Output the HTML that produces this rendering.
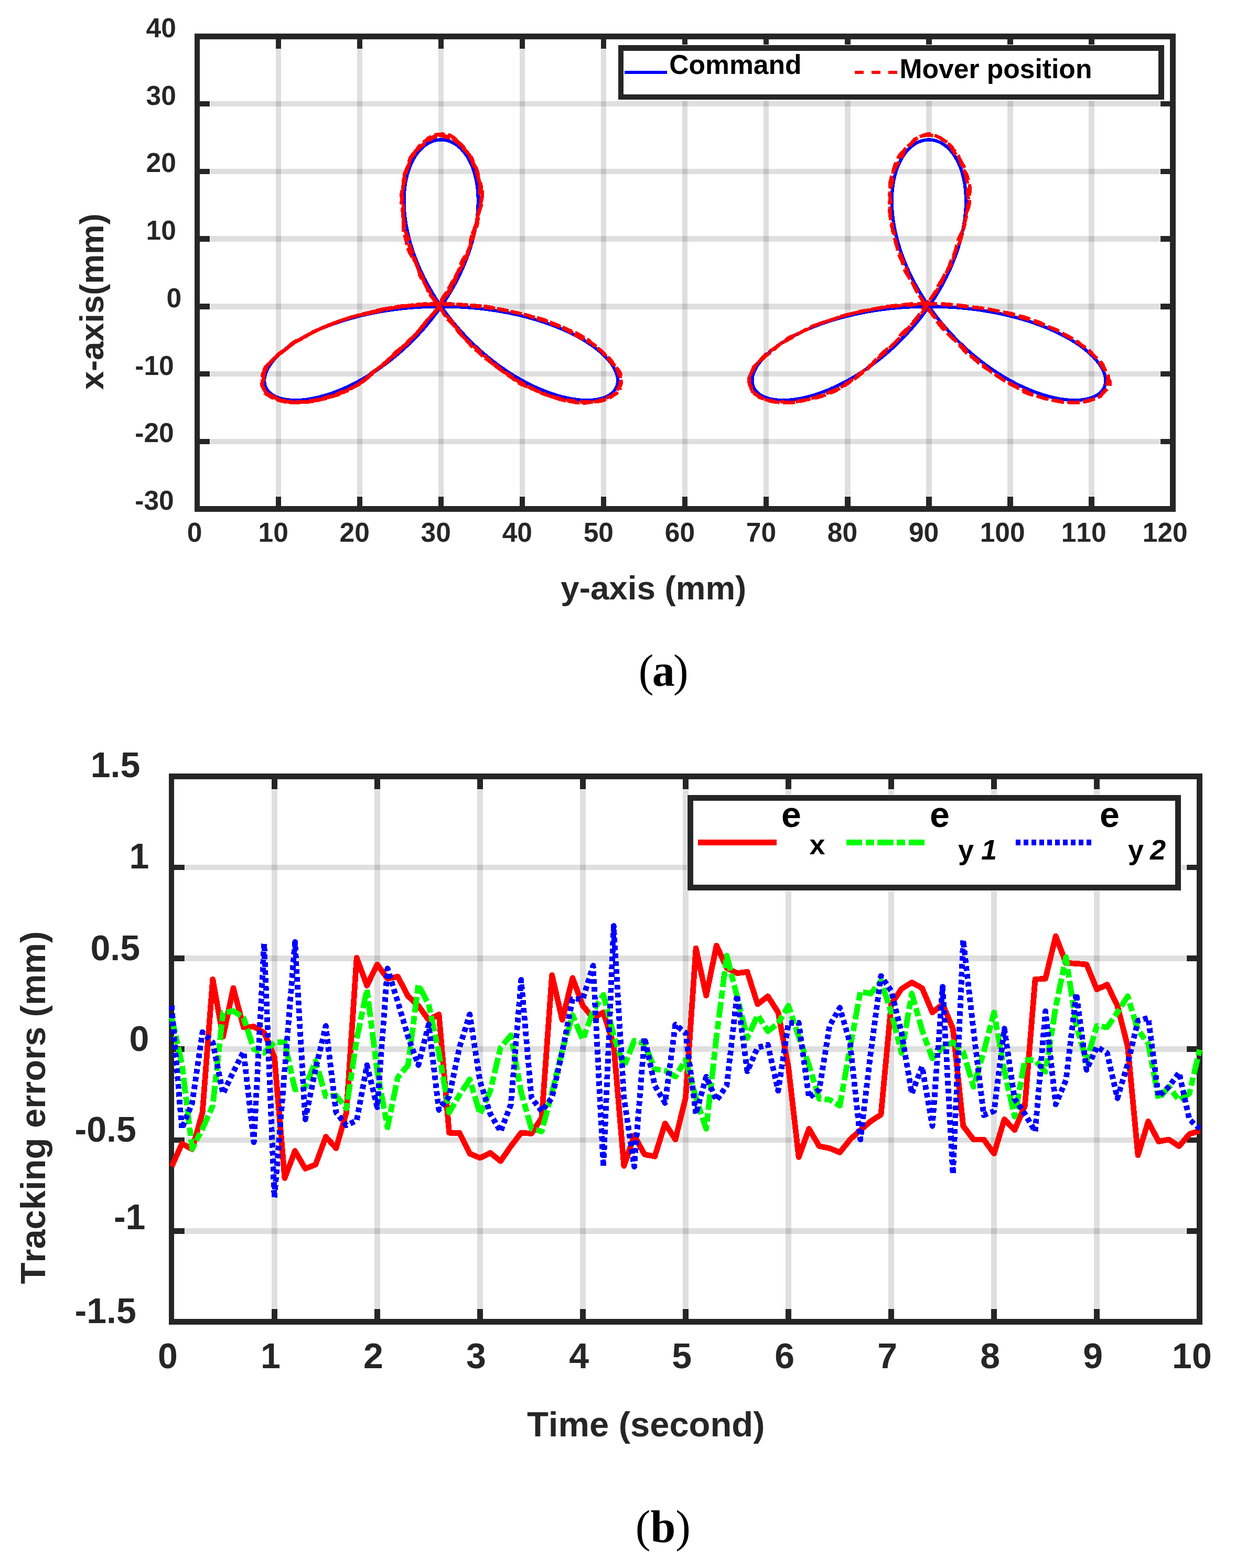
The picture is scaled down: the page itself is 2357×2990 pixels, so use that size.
<!DOCTYPE html>
<html lang="en"><head><meta charset="utf-8"><title>Figure: contour tracking and tracking errors</title>
<style>html,body{margin:0;padding:0;background:#fff}body{width:2357px;height:2990px;overflow:hidden}svg{display:block}.sf{font-family:"Liberation Sans",sans-serif;font-kerning:none}.rf{font-family:"Liberation Serif",serif}.b{font-weight:bold}</style>
</head><body>
<svg width="2357" height="2990" viewBox="0 0 2357 2990">
<rect width="2357" height="2990" fill="#fff"/>
<g id="chartA">
<g fill="#262626" fill-opacity="0.15" shape-rendering="crispEdges">
<rect x="526" y="94" width="10" height="852"/>
<rect x="681" y="94" width="10" height="852"/>
<rect x="836" y="94" width="10" height="852"/>
<rect x="991" y="94" width="10" height="852"/>
<rect x="1146" y="94" width="10" height="852"/>
<rect x="1301" y="94" width="10" height="852"/>
<rect x="1456" y="94" width="10" height="852"/>
<rect x="1611" y="94" width="11" height="852"/>
<rect x="1766" y="94" width="11" height="852"/>
<rect x="1921" y="94" width="11" height="852"/>
<rect x="2076" y="94" width="11" height="852"/>
<rect x="401" y="837" width="1811" height="10"/>
<rect x="401" y="708" width="1811" height="10"/>
<rect x="401" y="579" width="1811" height="11"/>
<rect x="401" y="450" width="1811" height="11"/>
<rect x="401" y="322" width="1811" height="10"/>
<rect x="401" y="193" width="1811" height="10"/>
</g>
<g fill="#262626" shape-rendering="crispEdges">
<rect x="526" y="947" width="10" height="18"/>
<rect x="526" y="75" width="10" height="18"/>
<rect x="681" y="947" width="10" height="18"/>
<rect x="681" y="75" width="10" height="18"/>
<rect x="836" y="947" width="10" height="18"/>
<rect x="836" y="75" width="10" height="18"/>
<rect x="991" y="947" width="10" height="18"/>
<rect x="991" y="75" width="10" height="18"/>
<rect x="1146" y="947" width="10" height="18"/>
<rect x="1146" y="75" width="10" height="18"/>
<rect x="1301" y="947" width="10" height="18"/>
<rect x="1301" y="75" width="10" height="18"/>
<rect x="1456" y="947" width="10" height="18"/>
<rect x="1456" y="75" width="10" height="18"/>
<rect x="1611" y="947" width="11" height="18"/>
<rect x="1611" y="75" width="11" height="18"/>
<rect x="1766" y="947" width="11" height="18"/>
<rect x="1766" y="75" width="11" height="18"/>
<rect x="1921" y="947" width="11" height="18"/>
<rect x="1921" y="75" width="11" height="18"/>
<rect x="2076" y="947" width="11" height="18"/>
<rect x="2076" y="75" width="11" height="18"/>
<rect x="381" y="837" width="19" height="10"/>
<rect x="2213" y="837" width="18" height="10"/>
<rect x="381" y="708" width="19" height="10"/>
<rect x="2213" y="708" width="18" height="10"/>
<rect x="381" y="579" width="19" height="11"/>
<rect x="2213" y="579" width="18" height="11"/>
<rect x="381" y="450" width="19" height="11"/>
<rect x="2213" y="450" width="18" height="11"/>
<rect x="381" y="322" width="19" height="10"/>
<rect x="2213" y="322" width="18" height="10"/>
<rect x="381" y="193" width="19" height="10"/>
<rect x="2213" y="193" width="18" height="10"/>
<rect x="371" y="64" width="10" height="912"/>
<rect x="2231" y="64" width="11" height="912"/>
<rect x="371" y="64" width="1871" height="11"/>
<rect x="371" y="965" width="1871" height="11"/>
</g>
<g fill="none" stroke-linejoin="round" shape-rendering="crispEdges">
<path d="M841.12,584.36 L826.09,584.52 L811.09,585.01 L796.15,585.82 L781.3,586.96 L766.57,588.41 L752,590.18 L737.61,592.25 L723.43,594.63 L709.5,597.29 L695.83,600.24 L682.46,603.46 L669.41,606.94 L656.71,610.66 L644.38,614.63 L632.46,618.82 L620.95,623.21 L609.89,627.8 L599.29,632.56 L589.17,637.48 L579.56,642.54 L570.47,647.73 L561.92,653.02 L553.91,658.4 L546.47,663.84 L539.61,669.33 L533.33,674.84 L527.65,680.37 L522.57,685.87 L518.11,691.34 L514.25,696.76 L511.02,702.1 L508.4,707.34 L506.41,712.46 L505.03,717.45 L504.26,722.27 L504.11,726.91 L504.57,731.36 L505.62,735.59 L507.26,739.58 L509.48,743.32 L512.27,746.78 L515.61,749.96 L519.5,752.83 L523.91,755.38 L528.83,757.59 L534.24,759.46 L540.13,760.96 L546.47,762.08 L553.25,762.82 L560.43,763.16 L568.01,763.1 L575.95,762.63 L584.24,761.73 L592.84,760.41 L601.73,758.65 L610.89,756.46 L620.29,753.83 L629.9,750.77 L639.69,747.26 L649.65,743.32 L659.74,738.94 L669.93,734.13 L680.19,728.89 L690.51,723.23 L700.84,717.15 L711.18,710.67 L721.47,703.79 L731.71,696.53 L741.87,688.88 L751.91,680.88 L761.82,672.53 L771.57,663.84 L781.13,654.83 L790.49,645.52 L799.62,635.93 L808.5,626.07 L817.11,615.96 L825.43,605.63 L833.44,595.08 L841.12,584.36 L848.47,573.47 L855.46,562.44 L862.08,551.29 L868.32,540.04 L874.17,528.73 L879.61,517.37 L884.64,505.99 L889.26,494.61 L893.45,483.25 L897.21,471.95 L900.54,460.73 L903.43,449.61 L905.89,438.61 L907.92,427.77 L909.51,417.1 L910.68,406.63 L911.43,396.39 L911.76,386.38 L911.69,376.65 L911.21,367.21 L910.35,358.08 L909.1,349.29 L907.5,340.84 L905.54,332.77 L903.24,325.09 L900.63,317.82 L897.71,310.98 L894.5,304.57 L891.03,298.62 L887.31,293.15 L883.35,288.15 L879.2,283.65 L874.85,279.65 L870.34,276.17 L865.69,273.21 L860.92,270.78 L856.06,268.88 L851.12,267.52 L846.13,266.71 L841.13,266.43 L836.12,266.71 L831.13,267.52 L826.19,268.88 L821.33,270.78 L816.56,273.21 L811.91,276.17 L807.4,279.65 L803.05,283.65 L798.9,288.15 L794.94,293.15 L791.22,298.62 L787.75,304.57 L784.54,310.98 L781.62,317.82 L779.01,325.09 L776.71,332.77 L774.75,340.84 L773.15,349.29 L771.9,358.08 L771.04,367.21 L770.56,376.65 L770.49,386.38 L770.82,396.39 L771.57,406.63 L772.74,417.1 L774.33,427.77 L776.36,438.61 L778.82,449.61 L781.71,460.73 L785.04,471.95 L788.8,483.25 L792.99,494.61 L797.61,505.99 L802.64,517.37 L808.08,528.73 L813.93,540.04 L820.17,551.29 L826.79,562.44 L833.78,573.47 L841.12,584.36 L848.81,595.08 L856.82,605.63 L865.14,615.96 L873.75,626.07 L882.63,635.93 L891.76,645.52 L901.12,654.83 L910.68,663.84 L920.43,672.53 L930.34,680.88 L940.38,688.88 L950.54,696.53 L960.78,703.79 L971.07,710.67 L981.41,717.15 L991.74,723.23 L1002.06,728.89 L1012.32,734.13 L1022.51,738.94 L1032.6,743.32 L1042.56,747.26 L1052.35,750.77 L1061.96,753.83 L1071.36,756.46 L1080.52,758.65 L1089.41,760.41 L1098.01,761.73 L1106.3,762.63 L1114.24,763.1 L1121.82,763.16 L1129,762.82 L1135.78,762.08 L1142.12,760.96 L1148.01,759.46 L1153.42,757.59 L1158.34,755.38 L1162.75,752.83 L1166.64,749.96 L1169.98,746.78 L1172.77,743.32 L1174.99,739.58 L1176.63,735.59 L1177.68,731.36 L1178.14,726.91 L1177.99,722.27 L1177.22,717.45 L1175.84,712.46 L1173.85,707.34 L1171.23,702.1 L1168,696.76 L1164.14,691.34 L1159.68,685.87 L1154.6,680.37 L1148.92,674.84 L1142.64,669.33 L1135.78,663.84 L1128.34,658.4 L1120.33,653.02 L1111.78,647.73 L1102.69,642.54 L1093.08,637.48 L1082.96,632.56 L1072.36,627.8 L1061.3,623.21 L1049.79,618.82 L1037.87,614.63 L1025.54,610.66 L1012.84,606.94 L999.79,603.46 L986.42,600.24 L972.75,597.29 L958.82,594.63 L944.64,592.25 L930.25,590.18 L915.68,588.41 L900.95,586.96 L886.1,585.82 L871.16,585.01 L856.16,584.52 L841.13,584.36" stroke="#0000ff" stroke-width="6.25"/>
<path d="M1771.38,584.36 L1756.34,584.52 L1741.34,585.01 L1726.4,585.82 L1711.55,586.96 L1696.82,588.41 L1682.25,590.18 L1667.86,592.25 L1653.68,594.63 L1639.75,597.29 L1626.08,600.24 L1612.71,603.46 L1599.66,606.94 L1586.96,610.66 L1574.63,614.63 L1562.71,618.82 L1551.2,623.21 L1540.14,627.8 L1529.54,632.56 L1519.42,637.48 L1509.81,642.54 L1500.72,647.73 L1492.17,653.02 L1484.16,658.4 L1476.72,663.84 L1469.86,669.33 L1463.58,674.84 L1457.9,680.37 L1452.82,685.87 L1448.36,691.34 L1444.5,696.76 L1441.27,702.1 L1438.65,707.34 L1436.66,712.46 L1435.28,717.45 L1434.51,722.27 L1434.36,726.91 L1434.82,731.36 L1435.87,735.59 L1437.51,739.58 L1439.73,743.32 L1442.52,746.78 L1445.86,749.96 L1449.75,752.83 L1454.16,755.38 L1459.08,757.59 L1464.49,759.46 L1470.38,760.96 L1476.72,762.08 L1483.5,762.82 L1490.68,763.16 L1498.26,763.1 L1506.2,762.63 L1514.49,761.73 L1523.09,760.41 L1531.98,758.65 L1541.14,756.46 L1550.54,753.83 L1560.15,750.77 L1569.94,747.26 L1579.9,743.32 L1589.99,738.94 L1600.18,734.13 L1610.44,728.89 L1620.76,723.23 L1631.09,717.15 L1641.43,710.67 L1651.72,703.79 L1661.96,696.53 L1672.12,688.88 L1682.16,680.88 L1692.07,672.53 L1701.82,663.84 L1711.38,654.83 L1720.74,645.52 L1729.87,635.93 L1738.75,626.07 L1747.36,615.96 L1755.68,605.63 L1763.69,595.08 L1771.38,584.36 L1778.72,573.47 L1785.71,562.44 L1792.33,551.29 L1798.57,540.04 L1804.42,528.73 L1809.86,517.37 L1814.89,505.99 L1819.51,494.61 L1823.7,483.25 L1827.46,471.95 L1830.79,460.73 L1833.68,449.61 L1836.14,438.61 L1838.17,427.77 L1839.76,417.1 L1840.93,406.63 L1841.68,396.39 L1842.01,386.38 L1841.94,376.65 L1841.46,367.21 L1840.6,358.08 L1839.35,349.29 L1837.75,340.84 L1835.79,332.77 L1833.49,325.09 L1830.88,317.82 L1827.96,310.98 L1824.75,304.57 L1821.28,298.62 L1817.56,293.15 L1813.6,288.15 L1809.45,283.65 L1805.1,279.65 L1800.59,276.17 L1795.94,273.21 L1791.17,270.78 L1786.31,268.88 L1781.37,267.52 L1776.38,266.71 L1771.38,266.43 L1766.37,266.71 L1761.38,267.52 L1756.44,268.88 L1751.58,270.78 L1746.81,273.21 L1742.16,276.17 L1737.65,279.65 L1733.3,283.65 L1729.15,288.15 L1725.19,293.15 L1721.47,298.62 L1718,304.57 L1714.79,310.98 L1711.87,317.82 L1709.26,325.09 L1706.96,332.77 L1705,340.84 L1703.4,349.29 L1702.15,358.08 L1701.29,367.21 L1700.81,376.65 L1700.74,386.38 L1701.07,396.39 L1701.82,406.63 L1702.99,417.1 L1704.58,427.77 L1706.61,438.61 L1709.07,449.61 L1711.96,460.73 L1715.29,471.95 L1719.05,483.25 L1723.24,494.61 L1727.86,505.99 L1732.89,517.37 L1738.33,528.73 L1744.18,540.04 L1750.42,551.29 L1757.04,562.44 L1764.03,573.47 L1771.38,584.36 L1779.06,595.08 L1787.07,605.63 L1795.39,615.96 L1804,626.07 L1812.88,635.93 L1822.01,645.52 L1831.37,654.83 L1840.93,663.84 L1850.68,672.53 L1860.59,680.88 L1870.63,688.88 L1880.79,696.53 L1891.03,703.79 L1901.32,710.67 L1911.66,717.15 L1921.99,723.23 L1932.31,728.89 L1942.57,734.13 L1952.76,738.94 L1962.85,743.32 L1972.81,747.26 L1982.6,750.77 L1992.21,753.83 L2001.61,756.46 L2010.77,758.65 L2019.66,760.41 L2028.26,761.73 L2036.55,762.63 L2044.49,763.1 L2052.07,763.16 L2059.25,762.82 L2066.03,762.08 L2072.37,760.96 L2078.26,759.46 L2083.67,757.59 L2088.59,755.38 L2093,752.83 L2096.89,749.96 L2100.23,746.78 L2103.02,743.32 L2105.24,739.58 L2106.88,735.59 L2107.93,731.36 L2108.39,726.91 L2108.24,722.27 L2107.47,717.45 L2106.09,712.46 L2104.1,707.34 L2101.48,702.1 L2098.25,696.76 L2094.39,691.34 L2089.93,685.87 L2084.85,680.37 L2079.17,674.84 L2072.89,669.33 L2066.03,663.84 L2058.59,658.4 L2050.58,653.02 L2042.03,647.73 L2032.94,642.54 L2023.33,637.48 L2013.21,632.56 L2002.61,627.8 L1991.55,623.21 L1980.04,618.82 L1968.12,614.63 L1955.79,610.66 L1943.09,606.94 L1930.04,603.46 L1916.67,600.24 L1903,597.29 L1889.07,594.63 L1874.89,592.25 L1860.5,590.18 L1845.93,588.41 L1831.2,586.96 L1816.35,585.82 L1801.41,585.01 L1786.41,584.52 L1771.38,584.36" stroke="#0000ff" stroke-width="6.25"/>
<path d="M840.29,579.06 L829.13,579.32 L818.8,579.33 L809.34,579.57 L798.64,580.43 L787.12,581.51 L777.38,582.67 L769.06,584.25 L759.85,585.94 L749.7,587.19 L739.72,588.23 L730.13,589.6 L721.41,591.32 L713.79,593.32 L706.01,595.44 L697.49,597.38 L688.92,599.4 L679.84,602.06 L669.86,605.02 L660.66,607.65 L652.88,610.27 L644.61,613.33 L635.72,616.4 L628.36,619.21 L622.2,622.17 L614.98,625.37 L606.72,628.55 L598.83,631.92 L591.63,635.67 L585.15,639.51 L579.1,643.19 L572.26,646.67 L564.96,649.82 L559.08,652.98 L554.51,656.77 L549.87,660.85 L545.73,664.44 L542.45,667.79 L538.15,671.51 L532.47,675.31 L527.7,678.81 L524.26,682.35 L520.52,686.07 L516.53,689.79 L513.38,693.58 L510.99,697.49 L508.99,701.25 L507.01,704.87 L504.14,708.5 L501.12,711.94 L500.17,715.22 L500.86,718.73 L500.86,722.13 L500.37,724.76 L500.66,727.08 L500.8,729.96 L500.25,733.23 L500.62,736.31 L502.02,739.24 L502.75,742.1 L502.82,744.69 L503.48,747.13 L504.99,749.46 L507.47,751.48 L510.84,753.39 L513.96,755.51 L516.9,757.55 L521.27,759.26 L526.34,761.01 L529.63,762.7 L531.87,763.78 L535.61,764.53 L540.73,765.66 L546.07,766.86 L552.12,767.43 L558.69,767.49 L564.42,767.41 L569.56,767.31 L575.15,767.29 L581.08,767.21 L587.21,766.66 L593.58,765.77 L599.13,764.93 L603.93,763.87 L609.98,762.33 L617.17,760.79 L623.17,759.44 L628.32,757.72 L634.98,755.62 L642.7,753.56 L649.62,751.23 L655.94,748.03 L662.36,744.18 L668.75,740.22 L675.69,736.26 L683.51,732.33 L690.99,728.19 L697.59,723.44 L703.74,718.38 L708.98,713.6 L713.47,708.8 L719.37,703.43 L726.96,697.82 L733.8,692.27 L739.73,686.35 L746.88,680.03 L754.94,673.84 L761.95,667.78 L768,661.51 L774.03,655.23 L780.16,649.17 L786.7,643.08 L793.48,636.77 L799.24,630.15 L804.22,623.02 L809.95,615.83 L816.11,609.24 L821.71,602.86 L827.65,595.9 L833.95,588.61 L838.41,581.5 L841.09,574.34 L844.68,566.99 L849.6,559.83 L854.13,552.83 L858.06,545.68 L862.05,538.51 L866.01,531.4 L870.08,524.15 L874.08,516.79 L876.92,509.33 L879.32,501.54 L883.34,493.65 L888.36,486.18 L892.36,478.77 L895.77,470.76 L899.39,462.63 L901.92,455.21 L903.26,448.29 L905.42,441.39 L908.4,434.51 L910.35,427.59 L911.17,420.46 L911.96,413.35 L913.17,406.39 L915.2,399.43 L917.68,392.63 L918.97,386.16 L919.04,379.68 L919.64,373.13 L920.18,367.01 L918.65,361.1 L916.06,354.77 L914.5,348.39 L913.42,342.7 L912.02,337.39 L911.1,331.87 L910.31,326.23 L908.15,320.72 L904.98,315.45 L902.03,310.63 L899.48,306.12 L897.5,301.48 L895.74,296.82 L892.73,292.49 L888.7,288.27 L885.95,284.09 L884.33,280.49 L881.47,277.46 L877.7,274.32 L874.99,271.16 L872.75,268.51 L869.67,266.12 L866.36,263.52 L863.18,260.96 L859.66,258.88 L856.33,257.43 L853.58,256.68 L850.48,256.33 L846.71,255.89 L842.55,255.62 L837.29,256.07 L831.51,256.93 L827.75,257.78 L825.96,258.93 L823.33,260.48 L819.6,261.94 L816.77,263.42 L814.58,265.54 L811.58,268.18 L808.07,270.91 L804.59,273.82 L801.01,277.08 L797.88,280.6 L795.29,284.39 L792.19,288.3 L788.83,292.02 L786.37,296 L784.17,300.86 L781.66,306.14 L780.19,311.09 L779.53,315.95 L777.24,321.09 L773.57,326.22 L771.34,331.39 L770.89,337.02 L770.54,342.98 L769.89,348.88 L769.1,354.8 L768.06,360.89 L767.4,367.06 L767.19,373.43 L766.37,379.92 L765.47,386.18 L766.11,392.44 L767.45,399.32 L767.97,406.43 L768.55,413.11 L769.68,419.81 L769.76,427.19 L769.04,434.96 L769.84,442.72 L772.18,450.51 L774.23,458.12 L775.75,465.37 L777.54,472.55 L780.11,479.88 L784.15,487.26 L789.19,494.81 L793.25,502.5 L796.24,509.9 L799.99,517.14 L804.06,524.85 L806.94,532.77 L809.83,540.2 L814.2,547.51 L818.91,555.32 L823.37,563.31 L828.72,570.96 L834.52,578.34 L839.25,585.51 L843.17,592.55 L847.42,599.77 L852.42,607.04 L858.56,613.95 L865.24,620.6 L870.55,627.23 L874.79,633.62 L880.44,639.85 L887.35,646.51 L893.39,653.36 L898.98,659.66 L905.6,665.56 L912.43,671.62 L918.7,677.65 L925.44,683.24 L932.8,688.6 L939.9,693.98 L947.08,699.47 L954.66,705.2 L962.02,710.84 L969.21,715.85 L976.27,720.46 L982.18,725.14 L987.71,729.59 L995.53,733.58 L1005.25,737.47 L1013.83,741.21 L1020.93,744.23 L1028.25,746.78 L1035.52,749.55 L1041.92,752.42 L1048.11,754.95 L1054.28,757.16 L1059.98,759.13 L1065.78,760.9 L1071.91,762.64 L1077.63,764.17 L1083.33,765.13 L1089.69,765.9 L1095.65,767.05 L1100.96,768.11 L1107.4,768.45 L1114.57,768.39 L1119.86,768.18 L1123.61,767.53 L1128.44,766.65 L1134.57,766.06 L1140.53,765.57 L1145.87,764.7 L1150.35,763.51 L1153.78,762.14 L1157.17,760.64 L1160.91,759.22 L1164.07,757.67 L1167.1,755.53 L1171.04,753.12 L1174.67,751.1 L1176.92,749.12 L1179.16,746.61 L1181.63,744.01 L1182.4,741.75 L1181.82,739.46 L1182.28,736.93 L1183.79,734.28 L1184.68,731.29 L1184.59,727.78 L1183.91,724.09 L1183.09,720.5 L1183.12,716.99 L1183.59,713.71 L1182.45,710.44 L1179.68,706.66 L1176.99,702.62 L1173.95,699.04 L1169.7,695.63 L1165.82,691.75 L1163.21,687.73 L1160.18,684.11 L1156.27,680.58 L1152.93,676.81 L1149.9,672.92 L1145.77,668.9 L1140.73,664.76 L1135.56,660.81 L1130.72,657.01 L1126.86,653.07 L1123.2,649.15 L1117.55,645.37 L1110.23,641.47 L1103.73,637.69 L1097.88,634.67 L1090.9,632.01 L1083.45,628.86 L1076.56,625.36 L1069.08,622.12 L1060.7,619.05 L1052.86,615.88 L1045.61,612.82 L1037.84,609.96 L1029.6,607.33 L1021.09,605.12 L1012.05,603.05 L1003.09,600.68 L994.15,598.24 L983.91,596.12 L973.17,594.01 L964.63,591.86 L957.71,590.16 L949.51,588.7 L939.83,586.85 L930.12,584.92 L920.08,583.63 L909.43,582.85 L899.2,582.12 L889.33,581.39 L879.03,580.63 L868.74,579.95 L858.7,579.66 L848.52,579.6 L838.86,579.35" stroke="#ff0000" stroke-width="6.5" stroke-dasharray="20 6" stroke-dashoffset="0"/>
<path d="M842.31,580.47 L831.52,580.23 L820.82,580.31 L809.33,580.73 L797.75,581.39 L787.72,582.16 L778.52,582.71 L768.84,583.22 L759.67,584.36 L751.28,586.01 L741.77,587.52 L731.27,589.16 L722.02,591.47 L713.96,594.06 L705.19,596.41 L695.42,598.69 L685.41,600.97 L675.79,603.09 L667.5,605.31 L660.31,607.97 L652.38,610.88 L643.71,613.88 L636.03,616.93 L628.78,619.74 L620.54,622.48 L612.51,625.78 L605.96,629.47 L599.57,632.75 L592.83,635.76 L587,639.18 L581.7,642.83 L575.36,646.25 L568.25,649.62 L561.52,653.16 L555.71,656.72 L551.34,660.37 L547.78,664.12 L542.96,667.67 L537.09,671.06 L532.52,674.63 L529.06,678.27 L524.64,681.94 L519.82,686.05 L516.05,690.33 L512.53,693.93 L508.71,696.99 L505.87,700.35 L504.21,704.04 L502.83,707.57 L501.98,711.02 L501.92,714.6 L502.01,718.21 L502.19,721.88 L502.23,725.49 L500.9,728.69 L498.99,731.59 L499.29,734.61 L501.57,737.5 L503.01,739.94 L503.48,742.3 L504.74,744.69 L506.52,746.64 L508.14,748.35 L510.33,750.57 L513.18,753.12 L516.02,755.25 L519.27,756.9 L523.07,758.35 L526.65,759.72 L530.37,761.19 L534.78,762.7 L538.74,763.86 L542.21,764.74 L547.17,765.78 L553.27,766.66 L557.9,766.86 L561.4,766.78 L566.36,766.8 L572.96,766.59 L579.8,766.11 L586.47,765.84 L592.56,765.6 L597.76,764.78 L603.06,763.45 L608.96,762 L614.72,760.5 L620.92,758.96 L628.54,757.17 L636.35,754.69 L643.38,751.75 L651.05,749.07 L659.35,746.46 L666.08,743.3 L671.47,739.81 L677.83,736.38 L685.16,732.59 L691.83,728.13 L697.57,723.37 L702.76,718.37 L707.98,712.93 L714.46,707.33 L721.99,701.89 L728.69,696.52 L734.55,691.12 L741.02,685.55 L747.52,679.47 L753.16,673.15 L759.47,667.35 L767.12,661.88 L774.21,655.93 L780.27,649.64 L786.82,643.55 L793.61,637.42 L799.31,630.92 L804.15,624.31 L808.94,617.67 L814.28,610.77 L820.97,603.73 L828.24,596.67 L833.8,589.42 L837.85,582.06 L842.66,574.85 L848.02,567.57 L852.27,560.27 L856.17,553.42 L860.65,546.68 L864.46,539.17 L867.41,531.08 L871.11,523.29 L875.63,515.81 L879.82,508.26 L883.66,500.74 L887.28,493.33 L890.36,485.88 L893.44,478.51 L896.28,471.23 L897.42,463.76 L897.72,456.22 L899.97,448.91 L903.76,441.58 L906.41,434.07 L907.9,426.88 L909.6,420.02 L911.06,412.88 L912.09,405.68 L913.72,399.15 L915.74,393.12 L917.12,386.9 L918.02,380.41 L918.51,373.87 L918.22,367.44 L917.88,361.39 L917.76,355.66 L916.3,349.77 L913.69,343.79 L912.28,338.08 L911.75,332.37 L909.62,326.4 L906.29,320.68 L903.97,315.48 L902.62,310.33 L901.2,305.27 L899.5,300.86 L896.88,296.91 L892.96,292.82 L888.88,288.63 L885.33,284.66 L881.85,281.04 L879.05,277.9 L877.31,275.04 L874.9,271.94 L871.26,268.85 L868.37,266.48 L866.24,264.69 L862.6,262.98 L857.72,261.58 L853.82,260.68 L850.91,259.76 L847.75,258.72 L844.15,258.05 L840.11,257.83 L835.98,257.74 L833.05,257.96 L831.15,258.72 L828.52,259.93 L825.2,261.57 L822.31,263.41 L819.01,265.01 L814.91,266.68 L811.93,269.19 L810.3,272.33 L807.63,275.29 L803.53,278.22 L799.78,281.55 L796.48,285.06 L792.74,288.6 L788.8,292.52 L785.08,296.78 L782.05,301.07 L780.73,305.49 L780.35,310.2 L778.61,315.11 L775.77,320.39 L773.89,326.05 L772.61,331.68 L770.79,337.36 L769.5,343.62 L769.21,350.09 L768.25,355.93 L766.62,361.36 L766.2,367.2 L767.07,373.48 L768.03,379.94 L768.72,386.65 L768.9,393.47 L768.61,400.19 L768.95,406.98 L769.8,413.92 L769.49,420.81 L768.82,427.81 L770.29,435.04 L773.28,442.14 L775.46,449.08 L777.07,456.47 L779.11,464.22 L780.91,471.61 L782.62,478.83 L785.62,486.57 L789.57,494.63 L793.24,502.46 L796.52,510 L799.47,517.39 L802.15,524.79 L805.77,532.53 L810.31,540.55 L813.83,548.35 L816.61,555.92 L821.13,563.51 L827.05,570.8 L832.09,577.71 L836.66,584.85 L842.36,592.35 L848.77,599.56 L855.14,606.53 L861.56,613.8 L867.33,621.18 L871.96,628.1 L876.57,634.57 L881.81,640.8 L887.51,646.92 L894.42,653.19 L902.36,659.44 L909.11,665.18 L914.45,670.61 L920.82,676.38 L928.3,682.31 L934.65,687.98 L940.13,693.69 L946.57,699.45 L953.83,704.63 L961.07,709.26 L968.27,713.97 L975.07,718.79 L981.59,723.37 L989.08,727.74 L997.36,731.99 L1004.96,736.08 L1012.17,740.11 L1019.65,743.84 L1026.25,746.79 L1031.94,749.27 L1039.03,752.07 L1047.48,754.97 L1054.58,757.27 L1059.98,759.16 L1065.47,760.94 L1071.38,762.31 L1077.26,763.28 L1083.31,764.33 L1089.36,765.36 L1095.58,766.01 L1102.94,766.33 L1110.69,766.49 L1116.72,766.54 L1121.43,766.71 L1126.5,766.91 L1131.32,766.58 L1135.22,765.85 L1139.69,765.31 L1144.85,764.68 L1148.67,763.21 L1151.27,761.24 L1154.63,759.47 L1158.96,757.86 L1163.24,756.24 L1166.93,754.73 L1169.43,753.11 L1170.97,751.09 L1173.1,748.89 L1175.75,746.64 L1177.16,744.28 L1177.93,741.98 L1180.08,739.68 L1182.68,736.89 L1183.87,733.69 L1184.33,730.81 L1184.75,728.11 L1184.15,724.87 L1182.88,721.26 L1182.49,717.9 L1182.64,714.64 L1182.06,711.09 L1180.4,707.3 L1177.44,703.31 L1173.62,699.2 L1170.63,695.36 L1168.37,691.75 L1164.66,687.96 L1159.76,684.02 L1156.09,680.1 L1153.28,675.87 L1149.42,671.45 L1145.08,667.61 L1141.29,664.32 L1137.22,660.8 L1132.42,657.05 L1127.4,653.63 L1121.61,650.39 L1114.63,646.92 L1107.41,643.27 L1100.4,639.52 L1093.66,635.82 L1088.16,632.48 L1083.33,629.35 L1076.6,625.95 L1068.01,622.49 L1060.32,619.5 L1053.67,616.72 L1046,613.89 L1037.54,611.41 L1029.57,609.17 L1021.68,606.47 L1013.43,603.44 L1005.08,600.81 L996.18,598.63 L986.63,596.57 L977.52,594.57 L968.67,592.6 L959.09,590.67 L949.47,589.05 L940.18,587.59 L929.68,585.82 L918.25,584.06 L908.44,583.02 L900.03,582.39 L890.29,581.63 L878.93,580.98 L867.64,580.58 L856.88,580.06 L846.69,579.51 L837.3,579.49" stroke="#ff0000" stroke-width="6.5" stroke-dasharray="20 6" stroke-dashoffset="9"/>
<path d="M840.5,580.48 L830.31,580.57 L820.51,580.71 L809.87,581.03 L799.44,581.54 L789.66,582.36 L779.77,583.41 L770.07,584.24 L760.97,585.09 L751.76,586.67 L742.48,588.81 L733.61,590.88 L724.35,592.95 L714.59,595.2 L705.43,597.2 L696.1,598.92 L684.96,601.01 L673.81,603.51 L665.38,605.98 L658.57,608.37 L651.16,610.87 L643.33,613.53 L635.69,616.59 L627.94,619.94 L620.48,623.03 L613.52,625.92 L606.36,629.24 L599.37,632.8 L593.33,635.91 L587.3,638.78 L580.65,642.02 L574.73,645.5 L569.43,649.06 L563.09,652.92 L556.61,656.89 L552,660.52 L548.04,663.93 L542.63,667.37 L536.6,670.91 L531.49,674.76 L527.46,678.85 L524.38,682.58 L521.52,685.96 L517.65,689.68 L513.38,693.69 L510.29,697.26 L507.77,700.53 L505.07,704.13 L503.62,707.94 L503.71,711.61 L503.36,715.21 L502.43,718.7 L502.42,721.94 L502.52,725.16 L501.23,728.45 L499.64,731.52 L499.3,734.33 L500.14,736.97 L501.72,739.11 L503.35,740.88 L504.2,743.12 L505.39,745.89 L508.7,748.36 L512.86,750.43 L515.84,752.62 L518.59,754.85 L522.08,756.71 L525.07,758.27 L527.53,759.65 L531.21,760.87 L535.85,762.22 L540.01,763.62 L544.1,764.61 L548.78,765.25 L553.5,765.88 L558.09,766.28 L562.57,766.31 L566.62,766.49 L571.42,766.77 L578.51,766.38 L586.17,765.3 L591.89,764.31 L596.81,763.52 L602.9,762.53 L609.35,761.23 L615.45,759.61 L622.25,757.63 L629.58,755.58 L636.41,753.44 L643.22,750.78 L650.61,747.83 L657.99,745.11 L665.3,742.34 L672.54,739.01 L678.75,735.37 L684.36,731.52 L690.9,726.97 L697.43,721.83 L702.18,716.84 L706.93,712.09 L714.11,707.13 L722.5,701.89 L730.11,696.42 L737.08,690.85 L743.61,685.53 L749.47,680.36 L755.48,674.71 L762.06,668.63 L768.42,662.74 L774.69,656.88 L781.25,650.52 L787.09,643.97 L792.23,637.6 L798.31,631.13 L804.8,624.45 L809.79,617.89 L814.38,611.3 L820.66,604.26 L827.43,596.86 L832.79,589.37 L837.39,581.95 L842.28,574.93 L847.55,568.16 L853.33,560.92 L858.91,553.21 L862.92,545.81 L865.95,538.66 L869.46,531.15 L872.96,523.43 L876.13,516 L880.36,508.64 L885.27,501.14 L888.62,493.76 L890.74,486.41 L893.55,478.91 L896.33,471.43 L897.65,464.07 L898.46,456.63 L900.01,449.26 L902.33,441.97 L905.26,434.32 L907.94,426.54 L909.24,419.52 L910.25,413.24 L912.65,406.81 L915.21,400.08 L916.31,393.52 L916.92,387.05 L917.51,380.46 L916.74,373.95 L915.19,367.54 L914.85,361.16 L915.14,355.05 L914.36,349.18 L912.81,343.22 L911.23,337.32 L909.54,331.74 L907.94,326.14 L906.19,320.54 L903.56,315.57 L901.21,311.16 L900.66,306.48 L900.13,301.54 L897.34,297.08 L893.49,293.18 L890.21,289.56 L886.74,286.1 L882.98,282.64 L880.13,279.15 L877.62,276.01 L874.19,273.27 L870.43,270.6 L867.15,268.19 L864.09,266.46 L861.31,264.99 L858.37,263.42 L854.12,262.17 L849.4,261.27 L846.14,260.17 L843.29,259.01 L839.04,258.55 L834.96,258.85 L832.95,259.51 L831.67,260.34 L829.58,261.26 L826.98,262.4 L823.72,264.16 L819.56,266.45 L815.62,268.63 L812.47,270.72 L809.43,273.26 L806.49,276.05 L803.54,278.73 L799.53,281.76 L795.12,285.41 L792.34,289.2 L790.36,293.05 L787.06,297.35 L783.57,301.98 L781.9,306.58 L780.91,311.19 L779.08,315.93 L776.98,320.99 L775.15,326.71 L773.57,332.83 L772.68,338.53 L771.99,343.84 L770.26,349.51 L768.16,355.51 L766.85,361.35 L765.83,367.26 L765.26,373.59 L766.57,380 L768.68,386.37 L769.02,393.01 L768.3,399.87 L768.73,406.67 L769.74,413.53 L770.09,420.45 L770.47,427.36 L771.61,434.53 L773.51,441.9 L776.34,448.93 L779.26,455.84 L781.01,463.49 L782.64,471.78 L785.63,479.83 L788.84,487.51 L791.22,495.17 L793.94,502.69 L797,510.06 L798.94,517.58 L800.79,525.22 L804.68,532.8 L809.79,540.46 L814.27,548.13 L818.22,555.59 L822.28,563.07 L826.72,570.7 L832.14,577.97 L838.02,584.93 L843.2,592.29 L848.63,599.96 L855.7,607.09 L862.68,613.68 L867.76,620.34 L872.32,627.13 L877.54,633.85 L882.53,640.45 L887.7,646.67 L894.42,652.47 L901.79,658.28 L908.29,664.22 L914.41,670.05 L920.93,675.97 L927.93,682.17 L935.64,688.06 L943.2,693.41 L949.17,698.78 L954.63,704.18 L961.69,709.01 L969.3,713.37 L975.73,717.95 L982.36,722.77 L990.49,727.48 L998.69,731.88 L1006.02,735.76 L1013.09,739.21 L1019.59,742.72 L1025.15,746.22 L1030.94,749.13 L1037.59,751.52 L1044.64,753.84 L1052.02,755.83 L1059.12,757.32 L1064.66,758.9 L1069.77,760.72 L1076.74,762.15 L1084.49,763.12 L1090.73,764.07 L1096.46,764.97 L1103.31,765.58 L1110.22,765.89 L1116.12,765.93 L1121.59,765.85 L1126.68,766.06 L1131.2,766.3 L1135.81,765.78 L1140.25,764.56 L1143.64,763.38 L1146.7,762.22 L1150.14,760.77 L1153.24,759.35 L1156.56,758.14 L1161.62,756.64 L1166.9,754.78 L1169.65,752.98 L1170.8,751.22 L1172.67,749.26 L1174.9,747.1 L1176.51,744.65 L1177.92,741.92 L1179.3,739.31 L1180.55,736.76 L1182.12,733.66 L1183.38,730.22 L1183.18,727.27 L1182.51,724.65 L1182.49,721.6 L1181.94,718.13 L1180.43,714.5 L1179.35,710.59 L1178.2,706.52 L1175.24,702.7 L1171.66,699.04 L1169.64,695.33 L1168.33,691.61 L1165.91,687.78 L1162.34,683.77 L1158.03,680.01 L1153.59,676.54 L1149.99,672.76 L1146.64,668.74 L1142.1,665.22 L1137.15,662.08 L1132.92,658.53 L1127.88,654.63 L1120.94,650.87 L1113.79,647.26 L1107.1,643.73 L1099.78,640.34 L1092.52,636.81 L1086.81,633.06 L1081.57,629.48 L1075.18,626.17 L1067.94,623 L1060.5,620.21 L1053.28,617.83 L1046.77,615.13 L1039.89,611.99 L1030.95,609.14 L1021.18,606.65 L1012.73,603.92 L1004.63,601.07 L995.44,598.66 L986.43,596.69 L978.26,594.93 L969.4,593.25 L959.58,591.39 L949.85,589.42 L939.85,587.88 L929.06,586.72 L918.48,585.46 L908.6,584.25 L899.16,583.37 L890.22,582.43 L880.81,581.38 L869.5,580.93 L857.8,581.1 L848.2,581.17 L839.58,581.02" stroke="#ff0000" stroke-width="6.5" stroke-dasharray="20 6" stroke-dashoffset="18"/>
<path d="M1771.13,579.06 L1760.5,578.95 L1750.16,578.93 L1740.29,579.24 L1729.86,580.21 L1719.24,581.43 L1709.16,582.48 L1699.25,583.57 L1689.58,584.89 L1680.27,586.48 L1670.45,588.4 L1660.6,590.31 L1652.48,591.78 L1645.04,593.33 L1635.56,595.53 L1624.78,597.9 L1615.29,600.03 L1606.94,602.42 L1598.58,605.29 L1590.56,608.14 L1582.76,610.84 L1574.33,613.63 L1565.76,616.35 L1557.68,618.98 L1549.75,621.88 L1542.4,625.14 L1536.19,628.58 L1530.05,632.2 L1523.64,635.7 L1518.38,638.74 L1513.61,641.83 L1506.93,645.62 L1499.12,649.62 L1492.82,653.2 L1487.72,656.77 L1482.03,660.72 L1475.87,664.64 L1469.88,668.34 L1464.29,672.02 L1459.95,675.62 L1456.87,679.13 L1453.67,682.77 L1450.23,686.41 L1447.27,689.84 L1443.92,693.34 L1439.83,697.01 L1436.91,700.56 L1435.52,704.26 L1433.7,708.48 L1431.64,712.56 L1431.28,715.77 L1431.88,718.58 L1431.44,721.67 L1430.13,724.83 L1429.08,727.83 L1428.83,730.8 L1429.91,733.68 L1431.69,736.49 L1432.47,739.38 L1432.59,742.08 L1433.82,744.34 L1435.67,746.56 L1437.08,748.99 L1439.26,751.2 L1442.64,753.18 L1445.43,755.37 L1447.58,757.44 L1451.12,758.88 L1455.9,760.22 L1460.37,761.98 L1464.6,763.77 L1469.19,765.09 L1473.97,765.98 L1478.95,766.53 L1483.57,767 L1486.69,767.67 L1489.56,768.23 L1494.75,768.26 L1501.67,768.08 L1508.11,767.94 L1514.45,767.31 L1521.51,766.07 L1528.03,764.79 L1533.81,763.54 L1540.44,761.94 L1547.82,760.31 L1554.59,759.01 L1560.92,757.56 L1567.43,755.54 L1574.05,753.08 L1581.12,750.35 L1588.41,747.47 L1594.6,744.55 L1600.32,741.17 L1607.56,736.9 L1615.33,732.31 L1621.16,727.97 L1625.92,723.48 L1631.79,718.53 L1638.41,713.57 L1644.98,708.64 L1652.01,703.27 L1658.99,697.55 L1664.86,691.84 L1670.25,685.95 L1676.04,679.81 L1682.18,673.71 L1689.15,667.73 L1696.92,661.8 L1703.91,655.97 L1710.1,649.87 L1717.27,643.08 L1724.67,636.19 L1729.94,629.87 L1733.94,623.6 L1739.12,616.81 L1745.1,609.87 L1750.55,603.05 L1755.67,596 L1760.65,588.76 L1765.43,581.54 L1770.9,574.25 L1777.12,566.84 L1782.8,559.52 L1787.8,552.24 L1792.46,544.9 L1795.79,537.77 L1798.03,530.73 L1801.47,523.39 L1806.05,516.12 L1809.36,509.31 L1811.67,502.29 L1815.01,494.45 L1818.83,486.32 L1821.57,478.54 L1823.54,470.96 L1825.45,463.5 L1827.72,456.2 L1831.07,448.86 L1834.9,441.49 L1837.45,434.33 L1839.01,427.2 L1840.98,419.97 L1842.76,412.99 L1843.78,406.29 L1845.52,399.43 L1847.88,392.6 L1848.68,386.28 L1848.11,380.05 L1848.42,373.37 L1849.47,366.77 L1849.77,360.76 L1849.23,355 L1848.09,349.11 L1846.39,343.09 L1844.72,336.99 L1842.7,331.13 L1839.17,325.87 L1835.3,320.89 L1833.37,315.77 L1832.53,310.78 L1830.93,306.05 L1829.12,301.14 L1827.46,296.18 L1824.49,291.81 L1820.48,287.87 L1817.44,283.91 L1815.2,280.27 L1812.26,277.31 L1808.57,274.61 L1804.61,271.78 L1800.68,268.9 L1797.57,266.11 L1794.9,263.7 L1791.06,261.91 L1786.71,260.3 L1783.91,258.42 L1781.75,256.82 L1778.12,256.01 L1774,255.58 L1770.99,255.36 L1768.27,255.75 L1765.34,256.57 L1762.94,257.31 L1760.37,258.19 L1756.48,259.63 L1751.91,261.42 L1747.62,263.39 L1743.93,265.67 L1741.46,268.23 L1739.7,271.1 L1736.64,274.4 L1732.51,277.67 L1729.49,280.54 L1727.03,283.7 L1722.98,287.8 L1718.28,292.29 L1714.97,296.68 L1712.54,301.25 L1710.11,306.08 L1708.11,310.84 L1706.36,315.71 L1704.5,320.95 L1703.34,326.32 L1703,331.68 L1702.47,337.19 L1701.84,342.79 L1701.11,348.57 L1699.1,354.79 L1696.5,361.17 L1695.95,367.24 L1697.06,373.44 L1697.15,380.27 L1696.35,387.06 L1696.47,393.23 L1697.14,399.33 L1697.41,405.87 L1697.7,412.73 L1698.31,419.88 L1699.34,427.34 L1701.52,434.74 L1704.33,442.05 L1706.2,449.49 L1707.53,456.96 L1709.34,464.44 L1710.87,472.22 L1712.09,480.12 L1714.88,487.62 L1718.84,495.03 L1721.51,502.88 L1723.26,510.69 L1726.45,517.95 L1731.1,525.18 L1735.82,532.83 L1740.31,540.61 L1744.36,548.27 L1748.08,555.77 L1752.45,563.02 L1757.28,570.29 L1761.36,577.92 L1765.67,585.56 L1771.86,592.84 L1778.76,600.01 L1784.92,607.06 L1791.26,613.58 L1797.77,619.9 L1802.77,626.68 L1806.88,633.62 L1812.34,640.15 L1819,646.55 L1825.36,653.17 L1831.12,659.7 L1836.46,665.89 L1841.89,671.76 L1848.61,677.33 L1856.17,682.93 L1862.73,688.85 L1868.85,694.61 L1876.42,699.78 L1884.49,704.82 L1891.43,710.08 L1898.39,715.16 L1906.3,720.01 L1913.91,725 L1921.02,729.79 L1928.67,733.81 L1936.23,737.4 L1942.57,741.05 L1948.24,744.57 L1954.05,747.79 L1960.55,750.67 L1968.62,753.14 L1977.37,755.38 L1984.38,757.65 L1989.99,759.52 L1996.57,760.64 L2003.62,761.71 L2009.31,763.27 L2014.58,764.8 L2020.84,765.91 L2027.24,766.88 L2033.25,767.61 L2039.57,767.78 L2045.8,767.71 L2051.34,767.73 L2056.8,767.61 L2062.26,767.16 L2067.18,766.44 L2072,765.43 L2076.47,764.37 L2079.12,763.58 L2080.95,762.67 L2084.74,761.09 L2089.94,759.34 L2093.78,757.87 L2096.37,756.11 L2099.22,753.67 L2102.01,751.07 L2104.36,748.66 L2106.85,746.31 L2109.32,744.1 L2111.45,741.99 L2113.81,739.57 L2115.93,736.74 L2116.65,733.75 L2116.61,730.58 L2116.47,727.37 L2115.17,724.44 L2113.11,721.43 L2112.51,717.76 L2112.74,713.9 L2111.17,710.45 L2108.19,706.94 L2105.97,702.89 L2104.5,698.78 L2102.74,694.95 L2100.38,691.21 L2096.86,687.47 L2092.28,683.71 L2087.94,679.78 L2083.87,675.9 L2079.05,672.38 L2074.38,668.9 L2070.87,665.19 L2067.01,661.49 L2061.9,657.66 L2056.98,653.31 L2052.07,649 L2045.34,645.45 L2037.57,642.24 L2031.03,638.76 L2025.53,635.25 L2019.68,632 L2013,628.79 L2005.3,625.51 L1997.2,622.16 L1990.22,618.7 L1983.94,615.46 L1976.44,612.75 L1968.22,610.14 L1960.81,607.27 L1953.18,604.6 L1944.29,602.29 L1935.58,599.95 L1927.47,597.71 L1918.32,596.01 L1908.17,594.38 L1898.41,592.27 L1888.69,590.08 L1878.13,588.34 L1867.16,586.94 L1856.28,585.72 L1846.17,584.54 L1837.86,583.2 L1830.2,581.95 L1820.57,581.16 L1809.46,580.44 L1799.23,579.48 L1789.5,578.89 L1778.91,579.04 L1768.52,579.36" stroke="#ff0000" stroke-width="6.5" stroke-dasharray="22 8" stroke-dashoffset="0"/>
<path d="M1769.61,580.33 L1759.2,580.6 L1749.51,580.87 L1740.13,581.22 L1731.16,581.77 L1721.74,582.43 L1711.59,583.32 L1701.6,584.53 L1691.7,585.64 L1681.62,586.67 L1672.12,588.27 L1662.85,590.3 L1652.52,591.94 L1642.27,593.3 L1633.85,595.17 L1625.69,597.58 L1616.1,600.12 L1606.75,602.77 L1599.06,605.4 L1591.64,607.84 L1583.41,610.36 L1574.68,613.17 L1565.66,616.11 L1557.13,619.29 L1550.08,622.83 L1543.57,626.29 L1536.36,629.44 L1529.15,632.82 L1522.2,636.43 L1514.46,639.58 L1506.95,642.36 L1501.6,645.58 L1497.24,649.27 L1491.94,652.93 L1486.81,656.51 L1483.06,660.07 L1479.36,663.68 L1474.65,667.66 L1469.39,671.92 L1464.01,675.9 L1459.25,679.56 L1455.73,683.24 L1452.15,686.74 L1447.4,689.93 L1443.16,693.4 L1440.66,697.3 L1438.54,700.95 L1436.42,704.24 L1435.4,707.71 L1434.45,711.34 L1431.95,714.67 L1429.3,717.76 L1428.3,720.8 L1428.27,723.94 L1428.36,727.42 L1428.77,731 L1429.44,734.02 L1430.56,736.56 L1432.54,739.25 L1434.11,742.01 L1434.32,744.44 L1435.26,746.84 L1438.45,749.41 L1441.96,751.62 L1444.52,753.4 L1447.32,755.34 L1450.46,757.47 L1452.95,759.34 L1455.78,760.89 L1460.05,762.15 L1464.73,763.13 L1468.93,764.05 L1473.13,764.9 L1477.53,765.21 L1482.62,765.26 L1489.1,765.83 L1495.65,766.74 L1500.7,767.16 L1505.69,767.12 L1511.99,766.92 L1517.67,766.33 L1521.55,765.31 L1525.65,764.33 L1531.27,763.35 L1537.61,762 L1544.58,760.29 L1552.28,758.34 L1559.51,756.15 L1565.9,753.99 L1572.34,751.84 L1578.95,749.16 L1585.79,745.96 L1593.52,742.9 L1601.12,739.88 L1607.1,736.13 L1613,731.81 L1620.66,727.56 L1628.4,723.29 L1634.53,718.75 L1640.57,713.99 L1647.61,708.87 L1654.56,703.2 L1660.87,697.3 L1666.89,691.44 L1672.46,685.58 L1678.18,679.87 L1684.98,674.33 L1692,668.35 L1698.26,661.87 L1704.39,655.61 L1710.24,649.6 L1714.82,643.1 L1719.69,636.18 L1726.84,629.53 L1734.59,623.12 L1740.76,616.61 L1746.39,609.96 L1752.65,603.15 L1758.56,596.18 L1763.51,589.36 L1767.81,582.66 L1771.55,575.65 L1775.52,568.38 L1780.51,561.09 L1785.33,553.52 L1789,545.67 L1792.96,538.26 L1797.85,531.33 L1802.28,524.04 L1806.4,516.29 L1811.35,508.63 L1815.7,501.15 L1817.86,493.58 L1819.44,485.98 L1822.34,478.4 L1825.91,470.92 L1829.22,463.81 L1832.04,456.89 L1834.03,449.54 L1835.76,441.88 L1838.08,434.47 L1839.81,427.2 L1840.07,419.84 L1840.75,412.81 L1842.94,406.2 L1844.8,399.36 L1845.54,392.29 L1846.36,385.66 L1846.82,379.52 L1845.85,373.46 L1844.78,367.35 L1844.88,361.11 L1845.17,354.78 L1844.66,348.76 L1843.52,343.07 L1841.89,337.21 L1840.65,331.4 L1840.65,326.3 L1840.26,321.65 L1837.75,316.79 L1834.68,311.86 L1832.46,307.11 L1829.52,302.22 L1825.2,297.29 L1821.4,292.88 L1818.71,288.97 L1816.13,285.15 L1813.9,281.36 L1812.21,277.68 L1809.81,274.2 L1806.28,271.34 L1802.4,269.04 L1798.41,266.66 L1794.86,264.25 L1792.47,262.52 L1789.7,261.35 L1784.94,260.08 L1780.05,258.91 L1777,258.28 L1774.21,257.98 L1770.22,257.85 L1766.36,258.07 L1763.28,258.49 L1760.04,258.9 L1756.71,259.57 L1753.66,260.71 L1750.4,262.33 L1747.24,264.63 L1744.85,267.43 L1742.43,269.97 L1739.47,272.25 L1736.69,275.05 L1733.48,278.41 L1728.87,281.67 L1724.88,284.93 L1723.51,288.7 L1722.8,292.88 L1720.48,297.22 L1717.51,301.78 L1714.97,306.45 L1712.27,311.13 L1709.38,316.12 L1706.57,321.39 L1703.57,326.6 L1701.03,331.88 L1699.8,337.37 L1698.82,342.7 L1697.41,347.96 L1696.86,353.94 L1697.17,360.6 L1696.87,367.03 L1696.67,373.12 L1697.89,379.46 L1698.8,386.08 L1697.75,392.85 L1696.47,399.79 L1696.79,406.83 L1698.22,413.9 L1699.97,421.26 L1701.5,428.74 L1702.19,435.84 L1702.89,442.74 L1704.77,449.89 L1706.85,457.06 L1708.31,464.12 L1710.76,471.63 L1714.63,479.56 L1718.04,487.15 L1720.84,494.4 L1724.35,501.94 L1727.71,509.82 L1729.81,517.75 L1732.19,525.55 L1736.2,533.03 L1740.89,540.25 L1745.38,547.72 L1749.46,555.43 L1753.08,562.88 L1757.43,570.21 L1763.52,577.91 L1769.57,585.6 L1773.82,592.78 L1777.82,599.82 L1782.84,606.87 L1787.56,613.52 L1791.92,619.9 L1797.63,626.58 L1804.5,633.51 L1811.2,640.28 L1818.19,646.74 L1825.85,652.82 L1833.06,658.71 L1839.44,664.96 L1845.47,671.48 L1851.32,677.51 L1857.91,683.1 L1866.01,688.88 L1873.73,694.68 L1879.32,699.99 L1884.75,705.06 L1891.96,710.19 L1899.46,715 L1906.16,719.43 L1913.19,723.76 L1920.65,727.9 L1927.63,731.68 L1934.6,735.28 L1942.08,738.8 L1949.34,742.28 L1956.37,745.99 L1963.5,749.66 L1970.04,752.45 L1976.15,754.44 L1982.78,756.49 L1988.96,758.65 L1993.61,760.37 L1998.95,761.77 L2006.86,763.2 L2015.24,764.44 L2021.91,765.4 L2027.7,766.25 L2033.37,766.87 L2038.64,767.15 L2043.94,767.31 L2049.49,767.3 L2054.62,766.92 L2059.7,766.46 L2065.31,765.98 L2070.53,764.95 L2075.12,763.52 L2080.27,762.53 L2085.36,761.89 L2088.8,760.73 L2091.8,758.96 L2095.91,757.05 L2099.38,755.09 L2100.65,753.1 L2101.36,751.18 L2103.07,749.14 L2105.44,746.86 L2107.93,744.56 L2109.82,742.11 L2110.26,739.16 L2110.19,736.02 L2110.97,733.05 L2111.73,729.87 L2111.91,726.47 L2112.75,723.48 L2113.94,720.83 L2113.56,717.72 L2112.11,714.14 L2111.18,710.65 L2109.69,707.34 L2106.43,703.99 L2102.92,700.46 L2100.46,696.48 L2098.38,692.15 L2095.97,688.04 L2092.75,684.22 L2088.4,680.25 L2084.25,676.32 L2081.46,672.75 L2078.23,669.06 L2073.01,664.97 L2067.24,660.99 L2061.82,657.28 L2055.6,653.33 L2049.09,649.27 L2043.94,645.64 L2039.25,642.42 L2033.42,639.25 L2027.07,635.97 L2020.83,632.39 L2014,628.71 L2006.42,625.57 L1998.29,622.87 L1989.58,619.93 L1981.5,616.77 L1974.95,613.96 L1967.88,611.29 L1958.56,608.43 L1948.97,605.77 L1940.81,603.48 L1932.76,601.07 L1924.19,598.5 L1916.08,596.19 L1907.96,594.12 L1898.81,592.18 L1889.48,590.44 L1880.65,588.85 L1871.64,587.45 L1862.27,586.62 L1852.46,586.06 L1841.59,584.91 L1830.42,583.28 L1820.27,582.06 L1809.92,581.29 L1798.16,580.53 L1787.19,579.97 L1778.67,579.78 L1770.5,579.64" stroke="#ff0000" stroke-width="6.5" stroke-dasharray="22 8" stroke-dashoffset="9"/>
</g>
<text class="sf b" x="356.75" y="1033" font-size="51.5" fill="#262626">0</text>
<text class="sf b" x="492.54" y="1033" font-size="51.5" fill="#262626">10</text>
<text class="sf b" x="647.58" y="1033" font-size="51.5" fill="#262626">20</text>
<text class="sf b" x="802.62" y="1033" font-size="51.5" fill="#262626">30</text>
<text class="sf b" x="957.67" y="1033" font-size="51.5" fill="#262626">40</text>
<text class="sf b" x="1112.71" y="1033" font-size="51.5" fill="#262626">50</text>
<text class="sf b" x="1267.75" y="1033" font-size="51.5" fill="#262626">60</text>
<text class="sf b" x="1422.79" y="1033" font-size="51.5" fill="#262626">70</text>
<text class="sf b" x="1577.83" y="1033" font-size="51.5" fill="#262626">80</text>
<text class="sf b" x="1732.88" y="1033" font-size="51.5" fill="#262626">90</text>
<text class="sf b" x="1868.67" y="1033" font-size="51.5" fill="#262626">100</text>
<text class="sf b" x="2023.71" y="1033" font-size="51.5" fill="#262626">110</text>
<text class="sf b" x="2178.75" y="1033" font-size="51.5" fill="#262626">120</text>
<text class="sf b" x="257.3" y="972" font-size="51.5" fill="#262626">-30</text>
<text class="sf b" x="257.3" y="843.29" font-size="51.5" fill="#262626">-20</text>
<text class="sf b" x="257.3" y="714.57" font-size="51.5" fill="#262626">-10</text>
<text class="sf b" x="317.5" y="585.86" font-size="51.5" fill="#262626">0</text>
<text class="sf b" x="278.5" y="457.14" font-size="51.5" fill="#262626">10</text>
<text class="sf b" x="278.5" y="328.43" font-size="51.5" fill="#262626">20</text>
<text class="sf b" x="278.5" y="199.71" font-size="51.5" fill="#262626">30</text>
<text class="sf b" x="278.5" y="71" font-size="51.5" fill="#262626">40</text>
<text class="sf b" x="1069.3" y="1143" font-size="63.7" fill="#262626">y-axis (mm)</text>
<text class="sf b" font-size="63.7" fill="#262626" transform="translate(197.2,743.3) rotate(-90)">x-axis(mm)</text>
<rect x="1178" y="85" width="1043" height="106" fill="#fff"/>
<g fill="#262626" shape-rendering="crispEdges">
<rect x="1179" y="86" width="10" height="104"/>
<rect x="2209" y="86" width="11" height="104"/>
<rect x="1179" y="86" width="1041" height="11"/>
<rect x="1179" y="180" width="1041" height="10"/>
</g>
<g shape-rendering="crispEdges">
<rect x="1191" y="135" width="81" height="6" fill="#0000ff"/>
<rect x="1630" y="135" width="17" height="6" fill="#ff0000"/>
<rect x="1662" y="135" width="17" height="6" fill="#ff0000"/>
<rect x="1694" y="135" width="17" height="6" fill="#ff0000"/>
</g>
<text class="sf b" x="1276.3" y="140.6" font-size="51.6" fill="#000">Command</text>
<text class="sf b" x="1715.5" y="149.2" font-size="51.6" fill="#000">Mover position</text>
</g>
<text class="rf" x="1263.8" y="1307.6" font-size="86" fill="#000" text-anchor="middle" letter-spacing="-2.7">(<tspan font-weight="bold">a</tspan>)</text>
<g id="chartB">
<g fill="#262626" fill-opacity="0.15" shape-rendering="crispEdges">
<rect x="518" y="1506" width="11" height="989"/>
<rect x="714" y="1506" width="11" height="989"/>
<rect x="910" y="1506" width="11" height="989"/>
<rect x="1106" y="1506" width="11" height="989"/>
<rect x="1302" y="1506" width="11" height="989"/>
<rect x="1498" y="1506" width="11" height="989"/>
<rect x="1694" y="1506" width="11" height="989"/>
<rect x="1890" y="1506" width="11" height="989"/>
<rect x="2086" y="1506" width="11" height="989"/>
<rect x="353" y="2342" width="1909" height="11"/>
<rect x="353" y="2169" width="1909" height="10"/>
<rect x="353" y="1995" width="1909" height="11"/>
<rect x="353" y="1822" width="1909" height="11"/>
<rect x="353" y="1649" width="1909" height="10"/>
</g>
<g fill="#262626" shape-rendering="crispEdges">
<rect x="518" y="2496" width="11" height="19"/>
<rect x="518" y="1486" width="11" height="19"/>
<rect x="714" y="2496" width="11" height="19"/>
<rect x="714" y="1486" width="11" height="19"/>
<rect x="910" y="2496" width="11" height="19"/>
<rect x="910" y="1486" width="11" height="19"/>
<rect x="1106" y="2496" width="11" height="19"/>
<rect x="1106" y="1486" width="11" height="19"/>
<rect x="1302" y="2496" width="11" height="19"/>
<rect x="1302" y="1486" width="11" height="19"/>
<rect x="1498" y="2496" width="11" height="19"/>
<rect x="1498" y="1486" width="11" height="19"/>
<rect x="1694" y="2496" width="11" height="19"/>
<rect x="1694" y="1486" width="11" height="19"/>
<rect x="1890" y="2496" width="11" height="19"/>
<rect x="1890" y="1486" width="11" height="19"/>
<rect x="2086" y="2496" width="11" height="19"/>
<rect x="2086" y="1486" width="11" height="19"/>
<rect x="332" y="2342" width="20" height="11"/>
<rect x="2263" y="2342" width="19" height="11"/>
<rect x="332" y="2169" width="20" height="10"/>
<rect x="2263" y="2169" width="19" height="10"/>
<rect x="332" y="1995" width="20" height="11"/>
<rect x="2263" y="1995" width="19" height="11"/>
<rect x="332" y="1822" width="20" height="11"/>
<rect x="2263" y="1822" width="19" height="11"/>
<rect x="332" y="1649" width="20" height="10"/>
<rect x="2263" y="1649" width="19" height="10"/>
<rect x="322" y="1475" width="10" height="1051"/>
<rect x="2282" y="1475" width="11" height="1051"/>
<rect x="322" y="1475" width="1971" height="11"/>
<rect x="322" y="2515" width="1971" height="11"/>
</g>
<g fill="none" stroke-linejoin="round" stroke-width="10.8" shape-rendering="crispEdges">
<path d="M327.29,2224.6 L346.89,2180.92 L366.5,2191.32 L386.1,2121.29 L405.71,1867.53 L425.31,1977.08 L444.91,1884.17 L464.52,1959.05 L484.12,1957.66 L503.73,1969.45 L523.33,2015.56 L542.93,2246.44 L562.54,2194.78 L582.14,2228.41 L601.75,2220.78 L621.35,2167.74 L640.95,2189.58 L660.56,2121.29 L680.16,1826.28 L699.77,1879.32 L719.37,1839.1 L738.97,1866.14 L758.58,1862.33 L778.18,1899.77 L797.79,1917.8 L817.39,1944.84 L836.99,1934.44 L856.6,2160.12 L876.2,2160.12 L895.81,2199.98 L915.41,2207.96 L935.01,2198.6 L954.62,2214.2 L974.22,2185.77 L993.83,2160.12 L1013.43,2161.5 L1033.03,2131.69 L1052.64,1859.56 L1072.24,1944.84 L1091.85,1864.76 L1111.45,1917.8 L1131.05,1941.02 L1150.66,1930.62 L1170.26,1992.33 L1189.87,2223.21 L1209.47,2165.32 L1229.07,2201.37 L1248.68,2205.18 L1268.28,2142.09 L1287.89,2172.94 L1307.49,2093.21 L1327.09,1808.25 L1346.7,1898.38 L1366.3,1803.05 L1385.91,1845.69 L1405.51,1855.74 L1425.11,1853.32 L1444.72,1915.02 L1464.32,1899.77 L1483.93,1930.62 L1503.53,2035.32 L1523.13,2206.57 L1542.74,2152.49 L1562.34,2185.77 L1581.95,2189.58 L1601.55,2197.56 L1621.15,2172.94 L1640.76,2154.92 L1660.36,2138.28 L1679.97,2125.45 L1699.57,1915.02 L1719.17,1885.56 L1738.78,1873.42 L1758.38,1884.17 L1777.99,1930.62 L1797.59,1915.02 L1817.19,1961.48 L1836.8,2147.29 L1856.4,2172.94 L1876.01,2172.94 L1895.61,2199.98 L1915.21,2134.46 L1934.82,2154.92 L1954.42,2108.46 L1974.03,1867.53 L1993.63,1866.14 L2013.23,1785.02 L2032.84,1836.33 L2052.44,1837.37 L2072.05,1839.1 L2091.65,1886.6 L2111.25,1877.58 L2130.86,1917.8 L2150.46,1995.1 L2170.07,2202.76 L2189.67,2138.28 L2209.27,2176.76 L2228.88,2172.94 L2248.48,2185.77 L2268.09,2162.54 L2287.69,2156.3" stroke="#ff0000"/>
<path d="M327.29,1939.64 L346.89,2028.38 L366.5,2190.97 L386.1,2152.49 L405.71,2108.46 L425.31,1931.32 L444.91,1927.85 L464.52,1941.02 L484.12,2000.65 L503.73,2007.58 L523.33,1987.48 L542.93,1987.48 L562.54,2077.61 L582.14,2073.45 L601.75,2023.53 L621.35,2090.78 L640.95,2089.05 L660.56,2113.66 L680.16,1982.28 L699.77,1886.94 L719.37,2042.25 L738.97,2149.72 L758.58,2054.38 L778.18,2031.16 L797.79,1877.93 L817.39,1915.02 L836.99,2007.93 L856.6,2121.29 L876.2,2088.01 L895.81,2058.2 L915.41,2124.06 L935.01,2080.04 L954.62,1997.53 L974.22,1974.3 L993.83,2082.81 L1013.43,2152.49 L1033.03,2157.34 L1052.64,2082.81 L1072.24,2002.73 L1091.85,1935.82 L1111.45,1982.28 L1131.05,1927.85 L1150.66,1897 L1170.26,1974.3 L1189.87,2033.93 L1209.47,1984.7 L1229.07,1989.9 L1248.68,2038.78 L1268.28,2041.56 L1287.89,2053 L1307.49,2020.76 L1327.09,2093.21 L1346.7,2152.49 L1366.3,1977.08 L1385.91,1822.46 L1405.51,1899.77 L1425.11,1979.5 L1444.72,1935.82 L1464.32,1966.68 L1483.93,1951.08 L1503.53,1917.8 L1523.13,1977.08 L1542.74,2031.16 L1562.34,2095.64 L1581.95,2097.02 L1601.55,2108.46 L1621.15,1997.53 L1640.76,1890.76 L1660.36,1894.57 L1679.97,1871.34 L1699.57,1930.62 L1719.17,2007.93 L1738.78,1894.57 L1758.38,1964.25 L1777.99,2018.33 L1797.59,1997.53 L1817.19,1987.48 L1836.8,2005.5 L1856.4,2072.41 L1876.01,2005.5 L1895.61,1930.62 L1915.21,2041.56 L1934.82,2129.26 L1954.42,2020.76 L1974.03,2022.14 L1993.63,2043.98 L2013.23,1920.22 L2032.84,1824.89 L2052.44,1956.28 L2072.05,2023.53 L2091.65,1956.28 L2111.25,1959.05 L2130.86,1930.62 L2150.46,1899.77 L2170.07,1964.25 L2189.67,1989.9 L2209.27,2095.64 L2228.88,2072.41 L2248.48,2098.06 L2268.09,2085.24 L2287.69,2001.69" stroke="#00ff00" stroke-dasharray="30 6.5 16 6.5" stroke-dashoffset="0"/>
<path d="M327.29,1917.8 L346.89,2152.49 L366.5,2103.26 L386.1,1968.06 L405.71,1987.48 L425.31,2085.24 L444.91,2043.98 L464.52,2005.5 L484.12,2178.14 L503.73,1799.24 L523.33,2283.88 L542.93,2040.17 L562.54,1796.46 L582.14,2134.46 L601.75,2038.78 L621.35,1956.28 L640.95,2121.29 L660.56,2145.9 L680.16,2136.89 L699.77,2031.16 L719.37,2111.24 L738.97,1846.73 L758.58,1910.52 L778.18,1977.08 L797.79,2031.16 L817.39,1953.85 L836.99,2116.44 L856.6,2090.44 L876.2,1997.53 L895.81,1934.44 L915.41,2062.01 L935.01,2124.06 L954.62,2157.69 L974.22,2106.04 L993.83,1868.57 L1013.43,2093.21 L1033.03,2118.86 L1052.64,2093.21 L1072.24,2005.5 L1091.85,1904.97 L1111.45,1904.97 L1131.05,1841.53 L1150.66,2224.6 L1170.26,1765.61 L1189.87,2093.21 L1209.47,2224.6 L1229.07,1978.46 L1248.68,2069.98 L1268.28,2103.26 L1287.89,1953.85 L1307.49,1969.45 L1327.09,2124.06 L1346.7,2053 L1366.3,2098.41 L1385.91,2069.98 L1405.51,1897 L1425.11,2042.94 L1444.72,1997.53 L1464.32,1992.33 L1483.93,2080.04 L1503.53,1951.08 L1523.13,1950.04 L1542.74,2093.21 L1562.34,2077.61 L1581.95,1956.28 L1601.55,1921.61 L1621.15,1989.9 L1640.76,2172.94 L1660.36,2007.93 L1679.97,1860.94 L1699.57,1889.37 L1719.17,1969.45 L1738.78,2085.24 L1758.38,2033.93 L1777.99,2147.29 L1797.59,1881.74 L1817.19,2238.81 L1836.8,1792.65 L1856.4,1964.25 L1876.01,2126.49 L1895.61,2118.86 L1915.21,1961.48 L1934.82,2095.64 L1954.42,2124.06 L1974.03,2157.69 L1993.63,1928.2 L2013.23,2106.04 L2032.84,2059.58 L2052.44,1894.57 L2072.05,2040.17 L2091.65,1996.49 L2111.25,2007.93 L2130.86,2094.25 L2150.46,2028.73 L2170.07,1946.22 L2189.67,1941.02 L2209.27,2090.44 L2228.88,2072.41 L2248.48,2045.37 L2268.09,2134.46 L2287.69,2152.49" stroke="#0000ff" stroke-dasharray="9 6" stroke-dashoffset="0"/>
</g>
<text class="sf b" x="300.99" y="2609.1" font-size="68" fill="#262626">0</text>
<text class="sf b" x="497.03" y="2609.1" font-size="68" fill="#262626">1</text>
<text class="sf b" x="693.07" y="2609.1" font-size="68" fill="#262626">2</text>
<text class="sf b" x="889.11" y="2609.1" font-size="68" fill="#262626">3</text>
<text class="sf b" x="1085.15" y="2609.1" font-size="68" fill="#262626">4</text>
<text class="sf b" x="1281.19" y="2609.1" font-size="68" fill="#262626">5</text>
<text class="sf b" x="1477.23" y="2609.1" font-size="68" fill="#262626">6</text>
<text class="sf b" x="1673.27" y="2609.1" font-size="68" fill="#262626">7</text>
<text class="sf b" x="1869.31" y="2609.1" font-size="68" fill="#262626">8</text>
<text class="sf b" x="2065.35" y="2609.1" font-size="68" fill="#262626">9</text>
<text class="sf b" x="2235.09" y="2609.1" font-size="68" fill="#262626">10</text>
<text class="sf b" x="172.8" y="1481.7" font-size="68" fill="#262626">1.5</text>
<text class="sf b" x="246.5" y="1655.7" font-size="68" fill="#262626">1</text>
<text class="sf b" x="172.5" y="1830.5" font-size="68" fill="#262626">0.5</text>
<text class="sf b" x="246.6" y="2004.4" font-size="68" fill="#262626">0</text>
<text class="sf b" x="142.6" y="2177.3" font-size="68" fill="#262626">-0.5</text>
<text class="sf b" x="216.9" y="2344" font-size="68" fill="#262626">-1</text>
<text class="sf b" x="142.6" y="2522.8" font-size="68" fill="#262626">-1.5</text>
<text class="sf b" x="1005" y="2739.4" font-size="66.9" fill="#262626">Time (second)</text>
<text class="sf b" font-size="66.9" fill="#262626" transform="translate(86.2,2448.5) rotate(-90)">Tracking errors (mm)</text>
<rect x="1310" y="1515" width="943" height="184" fill="#fff"/>
<g fill="#262626" shape-rendering="crispEdges">
<rect x="1311" y="1516" width="11" height="182"/>
<rect x="2241" y="1516" width="11" height="182"/>
<rect x="1311" y="1516" width="941" height="11"/>
<rect x="1311" y="1687" width="941" height="11"/>
</g>
<g shape-rendering="crispEdges">
<rect x="1331" y="1601" width="150" height="11" fill="#ff0000"/>
<rect x="1614" y="1601" width="30" height="11" fill="#00ff00"/>
<rect x="1651" y="1601" width="16" height="11" fill="#00ff00"/>
<rect x="1673" y="1601" width="31" height="11" fill="#00ff00"/>
<rect x="1710" y="1601" width="16" height="11" fill="#00ff00"/>
<rect x="1733" y="1601" width="30" height="11" fill="#00ff00"/>
<rect x="1937" y="1601" width="9" height="11" fill="#0000ff"/>
<rect x="1952" y="1601" width="9" height="11" fill="#0000ff"/>
<rect x="1967" y="1601" width="9" height="11" fill="#0000ff"/>
<rect x="1982" y="1601" width="9" height="11" fill="#0000ff"/>
<rect x="1997" y="1601" width="9" height="11" fill="#0000ff"/>
<rect x="2012" y="1601" width="9" height="11" fill="#0000ff"/>
<rect x="2027" y="1601" width="9" height="11" fill="#0000ff"/>
<rect x="2042" y="1601" width="9" height="11" fill="#0000ff"/>
<rect x="2057" y="1601" width="9" height="11" fill="#0000ff"/>
<rect x="2072" y="1601" width="9" height="11" fill="#0000ff"/>
</g>
<text class="sf b" x="1490" y="1577" font-size="68" fill="#000">e</text>
<text class="sf b" x="1773" y="1577" font-size="68" fill="#000">e</text>
<text class="sf b" x="2097" y="1577" font-size="68" fill="#000">e</text>
<text class="sf b" x="1543.5" y="1629" font-size="54" fill="#000">x</text>
<text class="sf b" x="1827" y="1639" font-size="54" fill="#000">y <tspan x="1871" font-style="italic">1</tspan></text>
<text class="sf b" x="2151" y="1639" font-size="54" fill="#000">y <tspan x="2193" font-style="italic">2</tspan></text>
</g>
<text class="rf" x="1264.4" y="2940.3" font-size="86" fill="#000" text-anchor="middle" letter-spacing="0">(<tspan font-weight="bold">b</tspan>)</text>
</svg>
</body></html>
